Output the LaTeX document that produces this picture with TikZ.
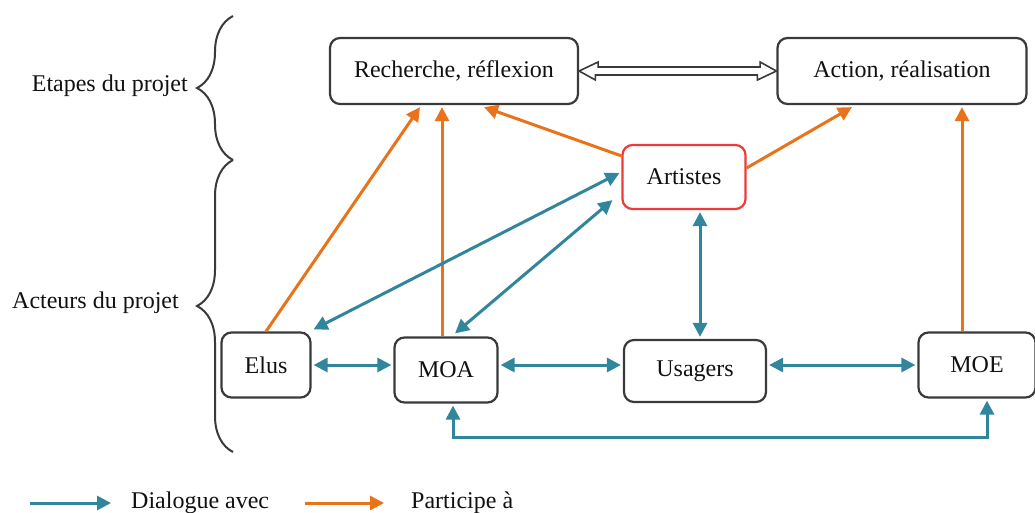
\documentclass[tikz,border=0pt]{standalone}
\usepackage{fontspec}
\setmainfont{Liberation Serif}
\usetikzlibrary{arrows.meta,calc,decorations.pathreplacing}
\definecolor{teal}{HTML}{31859C}
\definecolor{orng}{HTML}{E8731A}
\definecolor{bord}{HTML}{3A3A3A}
\definecolor{redb}{HTML}{F03A3A}
\definecolor{txt}{HTML}{111111}
\tikzset{
  box/.style={draw=bord, line width=2.2pt, rounded corners=10pt, text=txt,
    font=\fontsize{24}{28}\selectfont, inner sep=0pt},
  tip/.style={},
  dlg/.style={draw=teal, line width=3pt, {Triangle[length=14pt,width=14pt]}-{Triangle[length=14pt,width=14pt]}},
  dlgone/.style={draw=teal, line width=3pt, -{Triangle[length=14pt,width=14pt]}},
  part/.style={draw=orng, line width=3pt, -{Triangle[length=14pt,width=14pt]}},
  lbl/.style={text=txt, font=\fontsize{24}{28}\selectfont, inner sep=0pt},
  brc/.style={draw=bord, line width=2pt, decoration={brace, amplitude=36pt}, decorate}
}
\begin{document}
\begin{tikzpicture}[x=1pt,y=-1pt]
\useasboundingbox (0,0) rectangle (1035,512);
% nodes
\node[box, minimum width=248pt, minimum height=66pt] (rech) at (454,71) {Recherche, réflexion};
\node[box, minimum width=249pt, minimum height=66pt] (act) at (902,71) {Action, réalisation};
\node[box, draw=redb, minimum width=123pt, minimum height=64pt] (art) at (684,177) {Artistes};
\node[box, minimum width=89pt, minimum height=65pt] (elus) at (266,365) {Elus};
\node[box, minimum width=103pt, minimum height=65pt] (moa) at (446,370) {MOA};
\node[box, minimum width=142pt, minimum height=62pt] (usag) at (695,371) {Usagers};
\node[box, minimum width=117pt, minimum height=65pt] (moe) at (977,365) {MOE};
% labels
\node[lbl, anchor=east] (etapes) at (188,86) {Etapes du projet};
\node[lbl, anchor=east] (acteurs) at (179,303) {Acteurs du projet};
% braces
\coordinate (b1) at (233,160);
\coordinate (b0) at (233,16);
\coordinate (b2) at (233,452);
\draw[brc] (b1) -- (b0);
\draw[brc] (b2) -- (b1);
% hollow double arrow
\draw[draw=bord, line width=1.6pt, fill=white] (rech.east) -- ++(19,-9) -- ++(0,5) -- ++(162,0) -- ++(0,-5)
  -- (act.west) -- ++(-19,9) -- ++(0,-5) -- ++(-162,0) -- ++(0,5) -- cycle;
% participe (orange)
\draw[part] (elus.north) -- ($(rech.south)+(-34,2)$);
\draw[part] ($(moa.north)+(-4,0)$) -- ($(rech.south)+(-12,2)$);
\draw[part] ($(art.north west)+(0,12)$) -- ($(rech.south)+(30,2)$);
\draw[part] ($(art.east)+(0,-9)$) -- ($(act.south)+(-50,2)$);
\draw[part] ($(moe.north)+(-15,0)$) -- ($(act.south)+(60,2)$);
% dialogue (teal)
\draw[dlg] ($(art.west)+(-2,-4)$) -- ($(elus.north east)+(2,-2)$);
\draw[dlg] ($(art.south west)+(-9,-10)$) -- ($(moa.north)+(9,-3)$);
\draw[dlg] ($(art.south)+(16,2)$) -- ($(usag.north)+(5,-2)$);
\draw[dlg] ($(elus.east)+(2,0)$) -- ($(elus.east -| moa.west)+(-2,0)$);
\draw[dlg] ($(moa.east)+(2,-5)$) -- ($(moa.east -| usag.west)+(-2,-5)$);
\draw[dlg] ($(usag.east)+(2,-6)$) -- ($(usag.east -| moe.west)+(-2,-6)$);
\draw[dlg] ($(moa.south)+(7,2)$) |- ($(moe.south)+(10,39)$) -- ($(moe.south)+(10,2)$);
% legend
\coordinate (la0) at (30,503);
\coordinate (la1) at (111,503);
\coordinate (lb0) at (305,503);
\coordinate (lb1) at (384,503);
\draw[dlgone] (la0) -- (la1);
\draw[part] (lb0) -- (lb1);
\node[lbl, anchor=west] (ldlg) at (131,503) {Dialogue avec};
\node[lbl, anchor=west] (lpart) at (411,503) {Participe à};
\end{tikzpicture}
\end{document}
